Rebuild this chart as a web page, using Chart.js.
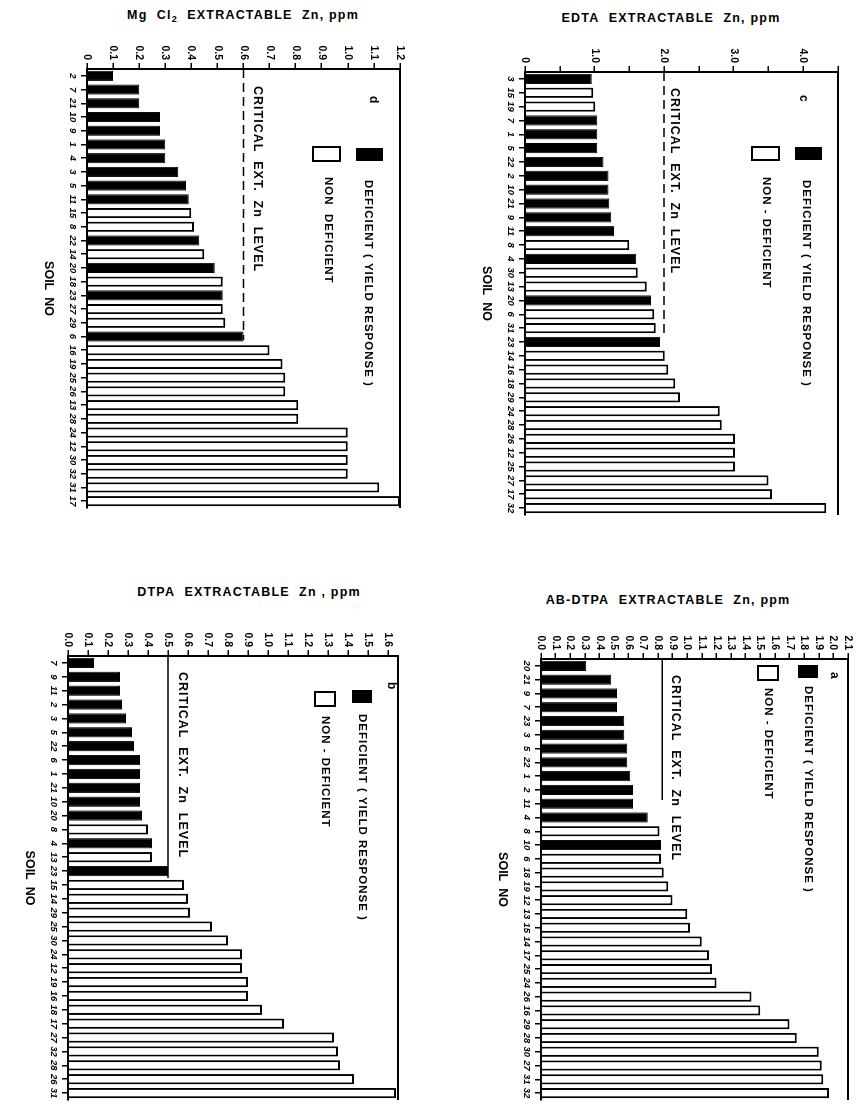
<!DOCTYPE html>
<html><head><meta charset="utf-8">
<script src="https://cdn.jsdelivr.net/npm/chart.js@4.4.0/dist/chart.umd.min.js"></script>
<style>
html,body{margin:0;padding:0;background:#fff;width:860px;height:1106px;overflow:hidden;}
.panel{position:absolute;transform-origin:0 0;transform:rotate(90deg);}
.ttl{position:absolute;width:400px;text-align:center;font-family:"Liberation Sans",Arial,sans-serif;font-weight:bold;font-size:12.5px;letter-spacing:1.2px;white-space:nowrap;color:#000;line-height:14px;}
.ttl sub{font-size:9px;vertical-align:-3px;line-height:0;}
</style></head><body>
<div class="ttl" style="left:43px;top:8px;">Mg&nbsp; Cl<sub>2</sub>&nbsp; EXTRACTABLE&nbsp; Zn, ppm</div>
<div class="ttl" style="left:471px;top:11px;">EDTA&nbsp; EXTRACTABLE&nbsp; Zn, ppm</div>
<div class="ttl" style="left:49px;top:585px;">DTPA&nbsp; EXTRACTABLE&nbsp; Zn , ppm</div>
<div class="ttl" style="left:468px;top:593px;">AB-DTPA&nbsp; EXTRACTABLE&nbsp; Zn, ppm</div>
<div id="pd" class="panel"><canvas id="cd"></canvas></div>
<div id="pc" class="panel"><canvas id="cc"></canvas></div>
<div id="pb" class="panel"><canvas id="cb"></canvas></div>
<div id="pa" class="panel"><canvas id="ca"></canvas></div>
<script>
// ---------- DATA ----------
// Panel d : MgCl2 extractable Zn (ppm)
const soilsD = ['2','7','21','10','9','1','4','3','5','11','15','8','22','14','20','18','23','27','29','6','16','19','25','26','13','28','24','12','30','32','31','17'];
const valuesD = [0.10,0.20,0.20,0.28,0.28,0.30,0.30,0.35,0.38,0.39,0.40,0.41,0.43,0.45,0.49,0.52,0.52,0.52,0.53,0.60,0.70,0.75,0.76,0.76,0.81,0.81,1.00,1.00,1.00,1.00,1.12,1.20];
const deficientD = [1,1,1,1,1,1,1,1,1,1,0,0,1,0,1,0,1,0,0,1,0,0,0,0,0,0,0,0,0,0,0,0];
const ticksD = ['0','0.1','0.2','0.3','0.4','0.5','0.6','0.7','0.8','0.9','1.0','1.1','1.2'];

// Panel c : EDTA extractable Zn (ppm)
const soilsC = ['3','15','19','7','1','5','22','2','10','21','9','11','8','4','30','13','20','6','31','23','14','16','18','29','24','28','26','12','25','27','17','32'];
const valuesC = [0.96,0.98,1.01,1.04,1.04,1.04,1.13,1.20,1.20,1.21,1.24,1.28,1.50,1.60,1.62,1.75,1.81,1.86,1.88,1.94,2.01,2.06,2.16,2.23,2.80,2.83,3.02,3.02,3.02,3.50,3.55,4.33];
const deficientC = [1,0,0,1,1,1,1,1,1,1,1,1,0,1,0,0,1,0,0,1,0,0,0,0,0,0,0,0,0,0,0,0];
const ticksC = ['0','','1.0','','2.0','','3.0','','4.0',''];

// Panel b : DTPA extractable Zn (ppm)
const soilsB = ['7','9','11','2','3','5','22','6','1','21','10','20','8','4','13','23','15','14','29','25','30','24','12','19','16','18','17','27','32','28','26','31'];
const valuesB = [0.13,0.26,0.26,0.27,0.29,0.32,0.33,0.36,0.36,0.36,0.36,0.37,0.40,0.42,0.42,0.50,0.58,0.60,0.61,0.72,0.80,0.87,0.87,0.90,0.90,0.97,1.08,1.33,1.35,1.36,1.43,1.64];
const deficientB = [1,1,1,1,1,1,1,1,1,1,1,1,0,1,0,1,0,0,0,0,0,0,0,0,0,0,0,0,0,0,0,0];
const ticksB = ['0.0','0.1','0.2','0.3','0.4','0.5','0.6','0.7','0.8','0.9','1.0','1.1','1.2','1.3','1.4','1.5','1.6'];

// Panel a : AB-DTPA extractable Zn (ppm)
const soilsA = ['20','21','9','7','23','3','5','22','1','2','11','4','8','10','6','18','19','12','13','15','14','17','25','24','26','16','29','28','30','27','31','32'];
const valuesA = [0.31,0.48,0.52,0.52,0.57,0.57,0.59,0.59,0.61,0.63,0.63,0.73,0.81,0.82,0.82,0.84,0.87,0.90,1.00,1.02,1.10,1.15,1.17,1.20,1.44,1.50,1.70,1.75,1.90,1.92,1.93,1.97];
const deficientA = [1,1,1,1,1,1,1,1,1,1,1,1,0,1,0,0,0,0,0,0,0,0,0,0,0,0,0,0,0,0,0,0];
const ticksA = ['0.0','0.1','0.2','0.3','0.4','0.5','0.6','0.7','0.8','0.9','1.0','1.1','1.2','1.3','1.4','1.5','1.6','1.7','1.8','1.9','2.0','2.1'];

const criticalLabel = 'CRITICAL  EXT.  Zn  LEVEL';
const legendDef = 'DEFICIENT ( YIELD RESPONSE )';
const legendNon = 'NON  DEFICIENT';
const legendNon2 = 'NON - DEFICIENT';

// ---------- LAYOUT (final, rotated page coordinates) ----------
const FONT = '"Liberation Sans", Arial, sans-serif';
const panels = [
  {div:'pd', cv:'cd', soils:soilsD, values:valuesD, def:deficientD, ticks:ticksD, step:0.1, max:1.2,
   X:0, Y:0, Wf:430, Hf:545, x0:87, x1:400, y0:69, y1:508,
   crit:0.6, critDash:true, critEnd:340, critText:{xc:257, y:86},
   letter:{t:'d', xc:373, y:96},
   boxD:{x1:356,x2:383,y1:148,y2:161}, textD:{xc:368,y:180, t:legendDef},
   boxN:{x1:313,x2:340,y1:147,y2:161}, textN:{xc:328,y:177, t:legendNon}},
  {div:'pc', cv:'cc', soils:soilsC, values:valuesC, def:deficientC, ticks:ticksC, step:0.5, max:4.5,
   X:430, Y:0, Wf:430, Hf:545, x0:525, x1:838, y0:72, y1:515,
   crit:2.0, critDash:true, critEnd:335, critText:{xc:674, y:88},
   letter:{t:'c', xc:803, y:95},
   boxD:{x1:795,x2:822,y1:147,y2:160}, textD:{xc:806,y:180, t:legendDef},
   boxN:{x1:752,x2:779,y1:147,y2:160}, textN:{xc:766,y:177, t:legendNon2}},
  {div:'pb', cv:'cb', soils:soilsB, values:valuesB, def:deficientB, ticks:ticksB, step:0.1, max:1.65,
   X:0, Y:545, Wf:430, Hf:561, x0:68, x1:398, y0:656, y1:1100,
   crit:0.5, critDash:false, critEnd:878, critText:{xc:182, y:672},
   letter:{t:'b', xc:391, y:682},
   boxD:{x1:352,x2:372,y1:690,y2:703}, textD:{xc:362,y:714, t:legendDef},
   boxN:{x1:315,x2:335,y1:692,y2:706}, textN:{xc:325,y:716, t:legendNon2}},
  {div:'pa', cv:'ca', soils:soilsA, values:valuesA, def:deficientA, ticks:ticksA, step:0.1, max:2.1,
   X:430, Y:545, Wf:430, Hf:561, x0:541, x1:848, y0:659, y1:1100,
   crit:0.83, critDash:false, critEnd:800, critText:{xc:675, y:675},
   letter:{t:'a', xc:834, y:672},
   boxD:{x1:798,x2:818,y1:665,y2:678}, textD:{xc:808,y:686, t:legendDef},
   boxN:{x1:758,x2:778,y1:666,y2:680}, textN:{xc:768,y:688, t:legendNon2}}
];

// map final-page coords to the un-rotated canvas coords
function U(p, yf){ return yf - p.Y; }
function V(p, xf){ return p.X + p.Wf - xf; }

const decor = {
  id:'decor',
  afterDatasetsDraw(chart, args, o){
    const p = o.p; const ctx = chart.ctx; const a = chart.chartArea;
    ctx.save();
    ctx.strokeStyle = '#000'; ctx.fillStyle = '#000';
    // top border (right border of the final figure)
    ctx.lineWidth = 2;
    ctx.beginPath(); ctx.moveTo(a.left, a.top); ctx.lineTo(a.right, a.top); ctx.stroke();
    // critical level line
    const yv = chart.scales.y.getPixelForValue(p.crit);
    ctx.lineWidth = 1.5;
    if (p.critDash) ctx.setLineDash([9,5]);
    ctx.beginPath(); ctx.moveTo(a.left, yv); ctx.lineTo(U(p,p.critEnd), yv); ctx.stroke();
    ctx.setLineDash([]);
    // texts
    ctx.textBaseline = 'middle'; ctx.textAlign = 'left';
    try { ctx.letterSpacing = '1px'; } catch(e) {}
    ctx.font = 'bold 12.5px ' + FONT;
    ctx.fillText(criticalLabel, U(p,p.critText.y), V(p,p.critText.xc));
    ctx.font = 'bold 11.5px ' + FONT;
    ctx.fillText(p.textD.t, U(p,p.textD.y), V(p,p.textD.xc));
    ctx.fillText(p.textN.t, U(p,p.textN.y), V(p,p.textN.xc));
    ctx.font = 'bold 12px ' + FONT;
    ctx.fillText(p.letter.t, U(p,p.letter.y), V(p,p.letter.xc));
    // legend boxes
    ctx.fillRect(U(p,p.boxD.y1), V(p,p.boxD.x2), p.boxD.y2-p.boxD.y1, p.boxD.x2-p.boxD.x1);
    ctx.lineWidth = 2;
    ctx.strokeRect(U(p,p.boxN.y1), V(p,p.boxN.x2), p.boxN.y2-p.boxN.y1, p.boxN.x2-p.boxN.x1);
    ctx.restore();
  }
};

panels.forEach(p => {
  const W = p.Hf, H = p.Wf;
  const div = document.getElementById(p.div);
  div.style.left = (p.X + p.Wf) + 'px';
  div.style.top = p.Y + 'px';
  div.style.width = W + 'px'; div.style.height = H + 'px';
  const cv = document.getElementById(p.cv);
  cv.width = W; cv.height = H;
  new Chart(cv, {
    type:'bar',
    data:{ labels:p.soils, datasets:[{
      data:p.values,
      backgroundColor:p.def.map(d => d ? '#000' : '#fff'),
      borderColor:'#000',
      borderWidth:p.def.map(d => d ? 1 : 2),
      barPercentage:0.74, categoryPercentage:1.0
    }]},
    options:{
      responsive:false, animation:false, devicePixelRatio:1,
      layout:{padding:{left:0, top:V(p,p.x1), right:W-U(p,p.y1), bottom:0}},
      plugins:{legend:{display:false}, tooltip:{enabled:false}, decor:{p:p}},
      scales:{
        x:{
          type:'category', offset:true,
          grid:{display:true, offset:false, drawOnChartArea:false, drawTicks:true, tickLength:6, color:'#000', lineWidth:1.5},
          border:{display:true, color:'#000', width:2},
          ticks:{color:'#000', font:{family:FONT, weight:'bold', size:9.5, style:'italic'}, maxRotation:0, minRotation:0, padding:3, autoSkip:false},
          title:{display:true, text:'SOIL  NO', color:'#000', font:{family:FONT, weight:'bold', size:12.5}, padding:{top:0,bottom:p.x0 - p.X - 46}},
          afterFit(s){ s.height = p.x0 - p.X; }
        },
        y:{
          type:'linear', min:0, max:p.max,
          grid:{display:true, drawOnChartArea:false, drawTicks:true, tickLength:6, color:'#000', lineWidth:1.5},
          border:{display:true, color:'#000', width:2},
          ticks:{stepSize:p.step, includeBounds:false, autoSkip:false, color:'#000', padding:3,
                 font:{family:FONT, weight:'bold', size:10.5},
                 callback:(v, i) => (i < p.ticks.length ? p.ticks[i] : '')},
          afterFit(s){ s.width = p.y0 - p.Y; }
        }
      }
    },
    plugins:[decor]
  });
});
</script>
</body></html>
